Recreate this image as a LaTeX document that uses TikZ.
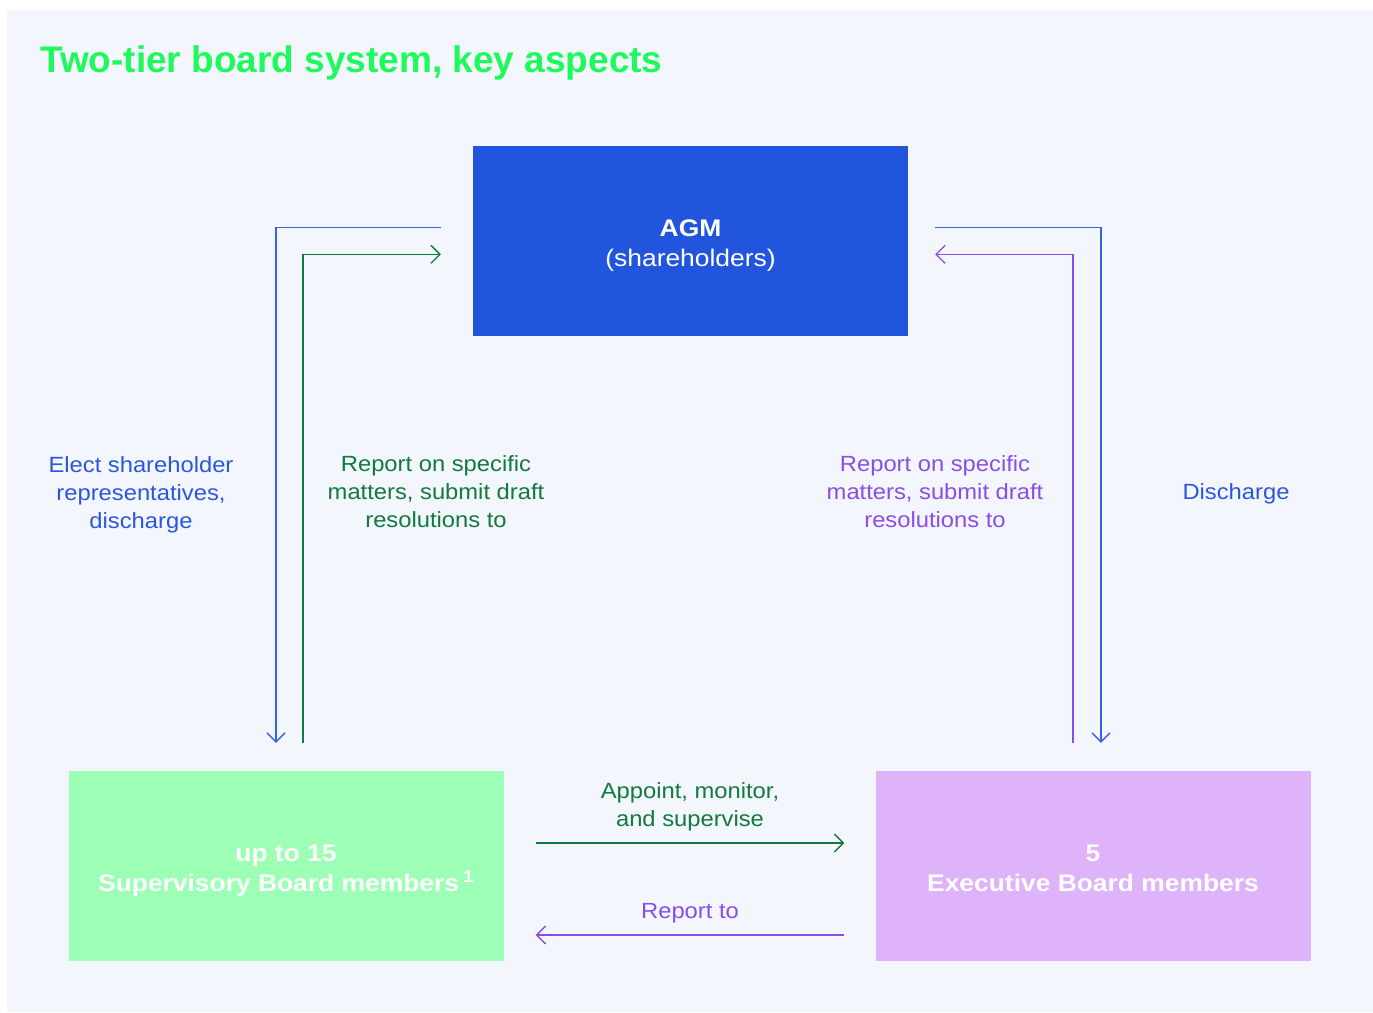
\documentclass[tikz,border=0pt]{standalone}
\usepackage{fontspec}
\setmainfont{Liberation Sans}
\newfontfamily\widesans[FakeStretch=1.08]{Liberation Sans}
\newfontfamily\boxsans[FakeStretch=1.1]{Liberation Sans}
\usetikzlibrary{arrows.meta,calc}

\definecolor{pagebg}{HTML}{F3F6FD}
\definecolor{titlegreen}{HTML}{1EFA5C}
\definecolor{agmblue}{HTML}{2155DD}
\definecolor{supgreen}{HTML}{9CFFB5}
\definecolor{execpurple}{HTML}{DEB3F9}
\definecolor{lineblue}{HTML}{3561E3}
\definecolor{textblue}{HTML}{2A57DC}
\definecolor{darkgreen}{HTML}{117A3C}
\definecolor{violet}{HTML}{8A4DE8}

\tikzset{
  board/.style={minimum width=435pt, minimum height=190pt, inner sep=0pt},
  boardtext/.style={align=center, inner sep=0pt, text=white,
    font=\boxsans\fontsize{24}{30}\selectfont},
  label/.style={align=center, inner sep=0pt, font=\widesans\fontsize{22}{28}\selectfont},
  flow/.style={line width=1.3pt, -{Straight Barb[length=9pt,width=18pt,line width=1.3pt]}}
}

\begin{document}
\begin{tikzpicture}[x=1pt,y=-1pt]
  \useasboundingbox (0,0) rectangle (1373,1012);
  \fill[white] (0,0) rectangle (1373,1012);
  \fill[pagebg] (7,10) rectangle (1373,1012);

  % heading
  \node[anchor=base west, inner sep=0pt, text=titlegreen,
        font=\fontsize{37}{44}\selectfont\bfseries] (title) at (40,72)
        {Two-tier board system, key aspects};

  % the three bodies
  \node[board, fill=agmblue] (agm) at (690.5,240.5) {};
  \node[board, fill=supgreen] (sup) at (286,866) {};
  \node[board, fill=execpurple] (exe) at (1093,866) {};

  \node[boardtext] (agmtxt) at ($(agm.center)+(0,5)$)
        {\textbf{AGM}\\(shareholders)};
  \node[boardtext] (suptxt) at ($(sup.center)+(0,5)$)
        {\textbf{up to 15}\\\textbf{Supervisory Board members\,\textsuperscript{1}}};
  \node[boardtext] (exetxt) at ($(exe.center)+(0,2)$)
        {\textbf{5}\\\textbf{Executive Board members}};

  % free ends of the connectors beside the boxes
  \coordinate (agmLout) at ($(agm.north west)+(-32,82)$);
  \coordinate (agmLin)  at ($(agm.north west)+(-32,109)$);
  \coordinate (agmRout) at ($(agm.north east)+(27,82)$);
  \coordinate (agmRin)  at ($(agm.north east)+(27,109)$);
  \coordinate (supTopA) at ($(sup.north)+(-10,-28)$);
  \coordinate (supTopB) at ($(sup.north)+(17,-28)$);
  \coordinate (exeTopA) at ($(exe.north)+(-20,-28)$);
  \coordinate (exeTopB) at ($(exe.north)+(8,-28)$);
  \coordinate (supR1) at ($(sup.east)+(32,-23)$);
  \coordinate (supR2) at ($(sup.east)+(32,69)$);
  \coordinate (exeL1) at ($(exe.west)+(-31,-23)$);
  \coordinate (exeL2) at ($(exe.west)+(-31,69)$);

  % AGM <-> Supervisory Board
  \draw[flow, lineblue] (agmLout) -| (supTopA);
  \draw[flow, darkgreen] (supTopB) |- (agmLin);
  % AGM <-> Executive Board
  \draw[flow, lineblue] (agmRout) -| (exeTopB);
  \draw[flow, violet] (exeTopA) |- (agmRin);
  % Supervisory <-> Executive Board
  \draw[flow, darkgreen] (supR1) -- (exeL1);
  \draw[flow, violet] (exeL2) -- (supR2);

  % connector labels
  \node[label, text=textblue] (lElect) at (141,495)
        {Elect shareholder\\representatives,\\discharge};
  \node[label, text=darkgreen] (lRepS) at (436,492)
        {Report on specific\\matters, submit draft\\resolutions to};
  \node[label, text=violet] (lRepE) at (935,492)
        {Report on specific\\matters, submit draft\\resolutions to};
  \node[label, text=textblue] (lDis) at (1236,494) {Discharge};
  \node[label, text=darkgreen] (lApp) at (690,807)
        {Appoint, monitor,\\and supervise};
  \node[label, text=violet] (lRep) at (690,913) {Report to};
\end{tikzpicture}
\end{document}
